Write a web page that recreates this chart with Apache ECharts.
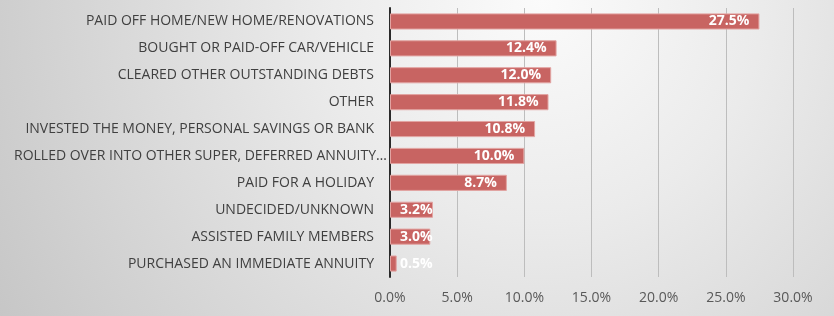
<!DOCTYPE html>
<html><head><meta charset="utf-8">
<script src="https://cdn.jsdelivr.net/npm/echarts@6/dist/echarts.min.js"></script>
<style>html,body{margin:0;padding:0;}#c{width:834px;height:316px;}</style>
</head><body><div id="c"></div>
<script>
const categories = [
  "PAID OFF HOME/NEW HOME/RENOVATIONS",
  "BOUGHT OR PAID-OFF CAR/VEHICLE",
  "CLEARED OTHER OUTSTANDING DEBTS",
  "OTHER",
  "INVESTED THE MONEY, PERSONAL SAVINGS OR BANK",
  "ROLLED OVER INTO OTHER SUPER, DEFERRED ANNUITY…",
  "PAID FOR A HOLIDAY",
  "UNDECIDED/UNKNOWN",
  "ASSISTED FAMILY MEMBERS",
  "PURCHASED AN IMMEDIATE ANNUITY"
];
const values = [27.5, 12.4, 12.0, 11.8, 10.8, 10.0, 8.7, 3.2, 3.0, 0.5];
const xTicks = [0, 5, 10, 15, 20, 25, 30];

const FONT = "'Open Sans', sans-serif";
const data = values.map(v => ({
  value: v,
  label: v < 5 ? {position: 'insideLeft', distance: 10} : {position: 'insideRight', distance: 10}
}));

const chart = echarts.init(document.getElementById('c'));
chart.setOption({
  animation: false,
  backgroundColor: {
    type: 'radial', x: 0.65, y: 0, r: 2.0,
    colorStops: [
      {offset: 0, color: '#fbfbfb'},
      {offset: 0.35, color: '#ebebeb'},
      {offset: 1, color: '#c6c6c6'}
    ]
  },
  grid: {left: 390, right: 41, top: 8, bottom: 39, containLabel: false, outerBoundsMode: 'none'},
  xAxis: {
    type: 'value', min: xTicks[0], max: xTicks[xTicks.length - 1], interval: 5,
    axisLine: {show: false}, axisTick: {show: false},
    axisLabel: {color: '#595959', fontSize: 14, fontFamily: FONT, margin: 14,
      formatter: v => v.toFixed(1) + '%'},
    splitLine: {show: true, lineStyle: {color: '#bdbdbd', width: 1}}
  },
  yAxis: {
    type: 'category', data: categories, inverse: true,
    axisLine: {show: true, lineStyle: {color: '#2a2a2a', width: 2}},
    axisTick: {show: false},
    axisLabel: {color: '#404040', fontSize: 14, fontFamily: FONT, margin: 16,
      formatter: v => v.endsWith('…') ? '{e|' + v + '}' : v,
      rich: {e: {color: '#404040', fontSize: 14, fontFamily: FONT, width: 360, align: 'left', overflow: 'none'}}
    }
  },
  series: [{
    type: 'bar', data: data, barCategoryGap: '40%',
    itemStyle: {color: '#c86462', borderColor: '#e2a4a2', borderWidth: 1},
    label: {show: true, color: '#ffffff', fontWeight: 'bold', fontSize: 14, fontFamily: FONT,
      formatter: p => p.value.toFixed(1) + '%'}
  }]
});
</script></body></html>
